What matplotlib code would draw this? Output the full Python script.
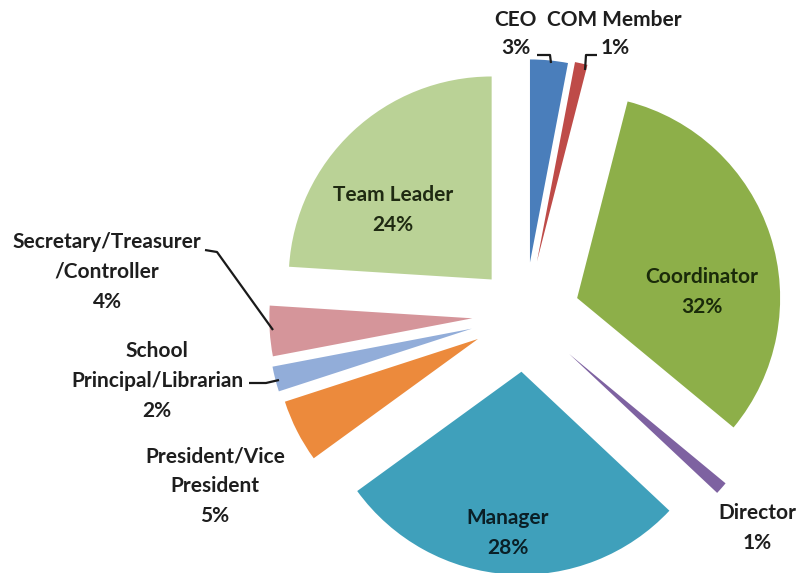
import matplotlib
matplotlib.use("Agg")
import matplotlib.pyplot as plt

labels = ["CEO", "COM Member", "Coordinator", "Director", "Manager",
          "President/Vice\nPresident", "School\nPrincipal/Librarian",
          "Secretary/Treasurer\n/Controller", "Team Leader"]
values = [3, 1, 32, 1, 28, 5, 2, 4, 24]
colors = ["#4A7EBB", "#BE4B48", "#8DAF49", "#7E62A1", "#3FA0BB",
          "#EC8A3C", "#92ADD9", "#D5959A", "#BAD296"]
explode = [0.26, 0.27, 0.27, 0.29, 0.28, 0.26, 0.27, 0.26, 0.24]

W, H = 798, 573
fig = plt.figure(figsize=(W / 100, H / 100), dpi=100)
ax = fig.add_axes([0, 0, 1, 1])

cx, cy, R = 525, H - 315, 203
ax.pie(values, colors=colors, explode=[e * R for e in explode], startangle=90,
       counterclock=False, radius=R, center=(cx, cy),
       wedgeprops=dict(linewidth=0), frame=True)
ax.set_xlim(0, W)
ax.set_ylim(0, H)
ax.set_aspect("equal")
ax.axis("off")

fam = ["Lato", "DejaVu Sans"]
tc = "#1e1e1e"
fs = 15

def lab(x, y, s, color=tc):
    ax.text(x, H - y, s, ha="center", va="center", fontsize=fs,
            fontweight="bold", family=fam, color=color, linespacing=1.62)

lab(515, 20, "CEO")
lab(516, 48, f"{values[0]}%")
lab(614, 20, "COM Member")
lab(615, 48, f"{values[1]}%")
lab(702, 292, f"Coordinator\n{values[2]}%", color="#1a2a0a")
lab(757, 528, f"Director\n{values[3]}%")
lab(508, 533, f"Manager\n{values[4]}%", color="#0a1f26")
lab(215, 486, f"President/Vice\nPresident\n{values[5]}%")
lab(157, 381, f"School\nPrincipal/Librarian\n{values[6]}%")
lab(107, 272, f"Secretary/Treasurer\n/Controller\n{values[7]}%")
lab(393, 210, f"Team Leader\n{values[8]}%", color="#1f2a12")

lc = "#1a1a1a"
def leader(pts):
    xs = [p[0] for p in pts]
    ys = [H - p[1] for p in pts]
    ax.plot(xs, ys, color=lc, linewidth=1.6, solid_capstyle="butt")

leader([(537, 55), (550, 55), (551, 63)])
leader([(597, 55), (586, 55), (585, 70)])
leader([(205, 250), (217, 252), (273, 330)])
leader([(249, 383), (266, 383), (279, 380)])

fig.savefig("out.png", dpi=100, facecolor="white")
